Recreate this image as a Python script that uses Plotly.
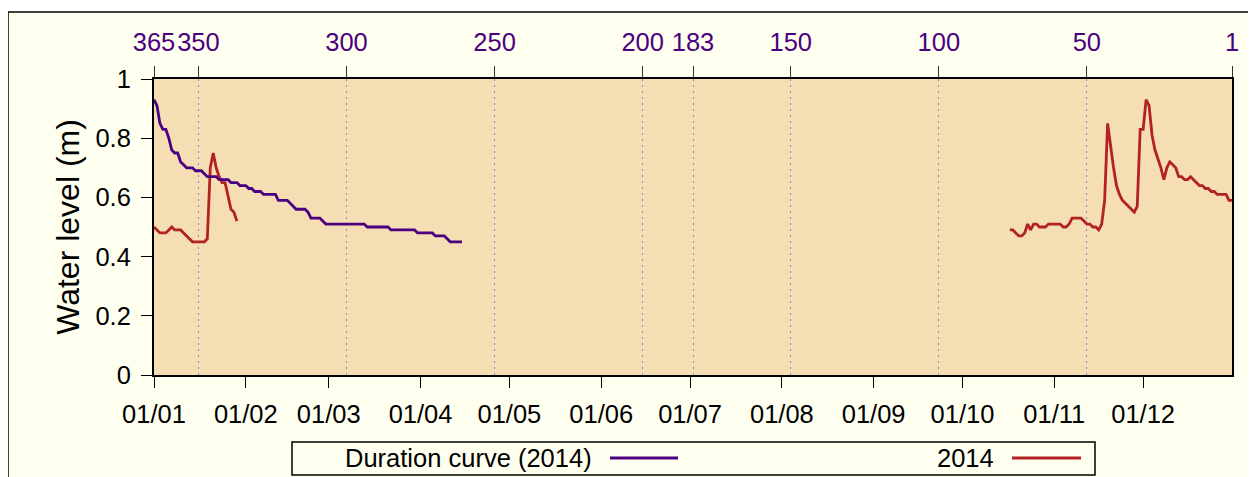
import pandas as pd
import plotly.graph_objects as go

# --- data ---
# 2014 water level, January (daily, from 01/01)
jan_start = "2014-01-01"
level_jan = [0.50, 0.49, 0.48, 0.48, 0.48, 0.49, 0.50, 0.49, 0.49, 0.49,
             0.48, 0.47, 0.46, 0.45, 0.45, 0.45, 0.45, 0.45, 0.46, 0.70,
             0.75, 0.70, 0.67, 0.65, 0.65, 0.60, 0.56, 0.55, 0.52]

# 2014 water level, autumn (daily, from 17/10)
autumn_start = "2014-10-17"
level_autumn = [0.49, 0.49, 0.48, 0.47, 0.47, 0.48, 0.51, 0.49, 0.51, 0.51,
                0.50, 0.50, 0.50, 0.51, 0.51, 0.51, 0.51, 0.51, 0.50, 0.50,
                0.51, 0.53, 0.53, 0.53, 0.53, 0.52, 0.51, 0.51, 0.50, 0.50,
                0.49, 0.51, 0.59, 0.85, 0.77, 0.70, 0.64, 0.61, 0.59, 0.58,
                0.57, 0.56, 0.55, 0.57, 0.83, 0.83, 0.93, 0.91, 0.81, 0.76,
                0.73, 0.70, 0.66, 0.70, 0.72, 0.71, 0.70, 0.67, 0.67, 0.66,
                0.66, 0.67, 0.66, 0.65, 0.64, 0.64, 0.63, 0.63, 0.62, 0.62,
                0.61, 0.61, 0.61, 0.61, 0.59, 0.59]

# duration curve (2014): levels by rank, starting at rank 365
duration_level = [0.93, 0.91, 0.85, 0.83, 0.83, 0.80, 0.76, 0.75, 0.75, 0.72,
                  0.71, 0.70, 0.70, 0.70, 0.69, 0.69, 0.69, 0.68, 0.67, 0.67,
                  0.67, 0.67, 0.66, 0.66, 0.66, 0.66, 0.65, 0.65, 0.65, 0.64,
                  0.64, 0.64, 0.63, 0.63, 0.62, 0.62, 0.62, 0.61, 0.61, 0.61,
                  0.61, 0.61, 0.59, 0.59, 0.59, 0.59, 0.58, 0.57, 0.56, 0.56,
                  0.56, 0.56, 0.55, 0.53, 0.53, 0.53, 0.53, 0.52, 0.51, 0.51,
                  0.51, 0.51, 0.51, 0.51, 0.51, 0.51, 0.51, 0.51, 0.51, 0.51,
                  0.51, 0.51, 0.50, 0.50, 0.50, 0.50, 0.50, 0.50, 0.50, 0.50,
                  0.49, 0.49, 0.49, 0.49, 0.49, 0.49, 0.49, 0.49, 0.49, 0.48,
                  0.48, 0.48, 0.48, 0.48, 0.48, 0.47, 0.47, 0.47, 0.47, 0.46,
                  0.45, 0.45, 0.45, 0.45, 0.45]
duration_rank = list(range(365, 365 - len(duration_level), -1))

rank_ticks = [365, 350, 300, 250, 200, 183, 150, 100, 50, 1]
month_ticks = pd.date_range("2014-01-01", "2014-12-01", freq="MS")

dates_jan = list(pd.date_range(jan_start, periods=len(level_jan), freq="D"))
dates_autumn = list(pd.date_range(autumn_start, periods=len(level_autumn), freq="D"))
red_x = dates_jan + [None] + dates_autumn
red_y = level_jan + [None] + level_autumn

PURPLE = "#4b0082"
RED = "#b22222"
FONT = "Liberation Sans, Arial, sans-serif"
FS = 25.5

# page body has an 8px margin, so the figure is 8px smaller than the window
OFF = 8
W, H = 1256 - OFF, 477 - OFF
L, R, T, B = 154 - OFF, 24, 79 - OFF, 102


def px(xpix):
    # page x pixel -> paper coordinate
    return (xpix - OFF - L) / (W - L - R)


def py(ypix):
    # page y pixel -> paper coordinate
    return (H - B - (ypix - OFF)) / (H - T - B)


fig = go.Figure()
fig.add_trace(go.Scatter(x=red_x, y=red_y, mode="lines", name="2014",
                         line=dict(color=RED, width=2.8), xaxis="x", yaxis="y",
                         connectgaps=False))
fig.add_trace(go.Scatter(x=duration_rank, y=duration_level, mode="lines",
                         name="Duration curve (2014)",
                         line=dict(color=PURPLE, width=2.8), xaxis="x2", yaxis="y"))

shapes = [
    # outer frame
    dict(type="rect", xref="paper", yref="paper", x0=px(8), x1=1.2, y0=-0.6, y1=py(12),
         fillcolor="#fffff0", line=dict(color="black", width=1.5), layer="below"),
    # plot background
    dict(type="rect", xref="paper", yref="paper", x0=0, x1=1, y0=0, y1=1,
         fillcolor="#f5deb3", line=dict(width=0), layer="below"),
    # legend box
    dict(type="rect", xref="paper", yref="paper", x0=px(292), x1=px(1095),
         y0=py(475), y1=py(442), fillcolor="#fffff0",
         line=dict(color="black", width=1.5)),
    dict(type="line", xref="paper", yref="paper", x0=px(610), x1=px(678),
         y0=py(458), y1=py(458), line=dict(color=PURPLE, width=2.8)),
    dict(type="line", xref="paper", yref="paper", x0=px(1012), x1=px(1081),
         y0=py(458), y1=py(458), line=dict(color=RED, width=2.8)),
]
annotations = [
    dict(text="Duration curve (2014)", xref="paper", yref="paper", x=px(594), y=py(458),
         xanchor="right", yanchor="middle", showarrow=False,
         font=dict(size=FS, color="black", family=FONT)),
    dict(text="2014", xref="paper", yref="paper", x=px(996), y=py(458),
         xanchor="right", yanchor="middle", showarrow=False,
         font=dict(size=FS, color="black", family=FONT)),
]

fig.update_layout(
    width=W, height=H,
    margin=dict(l=L, r=R, t=T, b=B),
    paper_bgcolor="white",
    plot_bgcolor="rgba(0,0,0,0)",
    font=dict(family=FONT, size=FS, color="black"),
    showlegend=False,
    shapes=shapes,
    annotations=annotations,
    xaxis=dict(
        type="date", range=["2014-01-01", "2014-12-31"],
        tickvals=month_ticks, tickformat="%d/%m", tickangle=0,
        ticks="outside", ticklen=11, tickwidth=1.2, tickcolor="black",
        ticklabelstandoff=4, automargin=False,
        showgrid=False, zeroline=False,
        showline=True, linecolor="black", linewidth=2, mirror=True,
    ),
    xaxis2=dict(
        overlaying="x", side="top", anchor="y",
        range=[365, 1], tickvals=rank_ticks, tickangle=0,
        tickfont=dict(color=PURPLE, size=FS),
        ticks="outside", ticklen=11, tickwidth=1.2, tickcolor="#333333",
        ticklabelstandoff=5, automargin=False,
        showgrid=True, gridcolor="#9a7fd1", gridwidth=1,
        griddash="2px,4px",
        zeroline=False, showline=True, linecolor="black", linewidth=2,
    ),
    yaxis=dict(
        range=[0, 1], dtick=0.2,
        ticks="outside", ticklen=11, tickwidth=1.2, tickcolor="black",
        ticklabelstandoff=5, automargin=False,
        showgrid=False, zeroline=False,
        showline=True, linecolor="black", linewidth=2, mirror=True,
        title=dict(text="Water level (m)", font=dict(size=32), standoff=6),
    ),
)

fig.write_html("out.html")
